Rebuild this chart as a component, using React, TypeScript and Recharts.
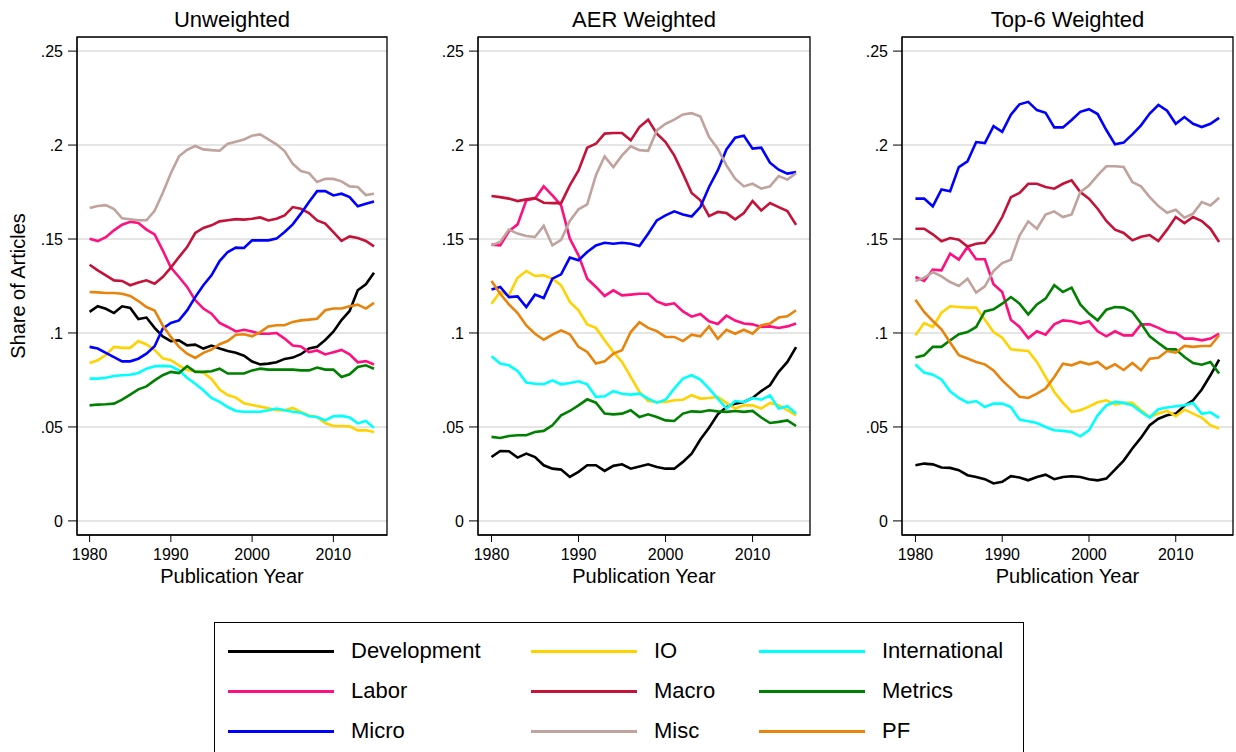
import { LineChart, Line, XAxis, YAxis, CartesianGrid, ReferenceArea } from 'recharts'

const years = Array.from({ length: 36 }, (_, i) => 1980 + i)
const xTicks = [1980, 1990, 2000, 2010]
const yTicks = [0, 0.05, 0.1, 0.15, 0.2, 0.25]
const xDomain = [1978.45, 2016.6]
const yDomain = [-0.0075, 0.2575]

const fields = ['Development', 'IO', 'International', 'Labor', 'Macro', 'Metrics', 'Micro', 'Misc', 'PF']
const colors = ['#000000', '#ffd200', '#00ffff', '#ff0f7f', '#c41238', '#008000', '#0000ff', '#c0a39c', '#e8830c']

// Unweighted
const unwDevelopment = [.1112, .1142, .1129, .1106, .1142, .1133, .1074, .1082, .1027, .0982, .0957, .0961, .0934, .0938, .0917, .0933, .0917, .0904, .0895, .0879, .0848, .0833, .0837, .0844, .0862, .0869, .0887, .0918, .0927, .0963, .1007, .1069, .1117, .1227, .1259, .1321]
const unwIO = [.084, .0855, .0883, .0926, .0921, .0921, .0957, .0939, .091, .0865, .0855, .0828, .0803, .0796, .079, .0755, .0699, .067, .0656, .0626, .0617, .0608, .06, .0589, .0589, .0601, .058, .0561, .0553, .0521, .0505, .0505, .0503, .0482, .0482, .0473]
const unwInternational = [.0757, .0757, .0762, .0771, .0775, .0778, .0787, .081, .0823, .0825, .0823, .0801, .0762, .073, .0695, .0654, .0633, .0606, .0585, .0581, .0581, .0581, .0589, .0598, .0589, .0581, .0576, .0557, .0553, .0535, .0557, .0559, .055, .0519, .0532, .0495]
const unwLabor = [.1502, .1489, .151, .1546, .1576, .1592, .1585, .155, .1525, .144, .1348, .1298, .1245, .1174, .113, .1103, .1053, .1032, .1008, .1017, .1008, .0996, .0996, .1, .097, .0933, .0928, .0898, .0907, .0886, .0898, .091, .0886, .0844, .085, .0832]
const unwMacro = [.1363, .1333, .1307, .128, .1277, .1254, .1268, .128, .1262, .1298, .1348, .1404, .1457, .1532, .1559, .1573, .1594, .16, .1606, .1603, .1608, .1615, .1599, .1608, .1626, .167, .1661, .1638, .1599, .1582, .1537, .149, .1514, .1505, .149, .1461]
const unwMetrics = [.0615, .0619, .0621, .0624, .0645, .0672, .07, .0716, .0748, .0775, .0793, .0787, .0823, .0793, .0793, .0796, .081, .0784, .0784, .0784, .0801, .081, .0805, .0805, .0805, .0805, .0801, .0801, .0816, .0805, .0805, .0766, .078, .0819, .0828, .081]
const unwMicro = [.0926, .0917, .0894, .0872, .0849, .0849, .0863, .089, .0929, .1023, .1053, .1067, .112, .1191, .1254, .1307, .1383, .1431, .1454, .1452, .1493, .1493, .1493, .1502, .1537, .1578, .1635, .1697, .1755, .1755, .1732, .1741, .1723, .1674, .1688, .17]
const unwMisc = [.1665, .1676, .168, .166, .161, .1605, .16, .16, .165, .1745, .185, .194, .1975, .1995, .1977, .1973, .197, .2007, .2018, .203, .205, .2057, .203, .2004, .1968, .19, .1862, .1851, .1803, .182, .182, .1807, .178, .1777, .1734, .1741]
const unwPF = [.1218, .1216, .1213, .1213, .1209, .1197, .117, .1138, .112, .104, .0979, .0926, .089, .0867, .0894, .0911, .094, .0957, .0991, .0993, .0982, .1005, .1035, .1041, .1041, .1059, .1067, .1071, .1076, .1121, .113, .113, .1142, .1151, .113, .116]

// AER weighted
const aerDevelopment = [.034, .0372, .0371, .0337, .0358, .034, .0296, .0278, .0273, .0234, .0261, .0296, .0296, .0266, .0293, .0301, .0278, .029, .0301, .0287, .0278, .0278, .0314, .0358, .0433, .0496, .0567, .0606, .0624, .0633, .0654, .0691, .0722, .0793, .0846, .0925]
const aerIO = [.1156, .1218, .12, .1294, .133, .1303, .1307, .1289, .1254, .1165, .1121, .1046, .1027, .0961, .0899, .0846, .0766, .0686, .0638, .0633, .0633, .0642, .0645, .0669, .0651, .0654, .066, .0628, .0598, .0615, .0615, .0598, .0628, .0615, .0589, .0562]
const aerInternational = [.0876, .0837, .0828, .0798, .0736, .073, .0727, .0748, .0727, .0734, .0743, .0727, .066, .0663, .069, .0677, .0672, .0677, .0651, .0629, .0645, .0704, .0757, .0775, .0752, .0704, .0651, .0598, .0638, .0633, .0654, .0645, .0668, .0598, .061, .0571]
const aerLabor = [.147, .1466, .1541, .1578, .1706, .1715, .178, .1732, .1679, .1502, .1413, .1289, .1245, .1197, .1227, .12, .1204, .1209, .1209, .1168, .115, .1158, .1115, .1087, .1101, .1062, .1048, .1092, .1066, .105, .1046, .1032, .1035, .1027, .1035, .105]
const aerMacro = [.1729, .1723, .1715, .1702, .1711, .1718, .1693, .1691, .1691, .1785, .1865, .1986, .2007, .2061, .2064, .2064, .2025, .2096, .2135, .206, .2016, .1945, .1848, .1745, .1706, .1622, .1644, .1638, .1605, .1638, .1702, .1652, .1691, .167, .1649, .1575]
const aerMetrics = [.0447, .0441, .0452, .0456, .0456, .0473, .0479, .0509, .0562, .0585, .0615, .0647, .0629, .0571, .0567, .0571, .0589, .0553, .0567, .0553, .0535, .0532, .0571, .0583, .058, .0589, .0583, .058, .0585, .058, .0585, .055, .0521, .0527, .0535, .0505]
const aerMicro = [.1232, .1245, .1191, .1195, .1138, .1204, .1186, .1289, .1312, .1401, .1387, .1431, .1466, .148, .1475, .148, .1475, .1463, .1528, .1599, .1626, .1647, .1631, .162, .167, .1777, .1865, .1977, .2039, .205, .1981, .1986, .1906, .1869, .1848, .1856]
const aerMisc = [.1466, .1484, .155, .1529, .1516, .1511, .157, .1466, .1496, .1596, .1658, .1684, .1839, .194, .1883, .1945, .1993, .1973, .1969, .2078, .2113, .2135, .2163, .217, .2152, .2043, .1981, .1892, .1821, .178, .1794, .1768, .178, .1835, .1816, .185]
const aerPF = [.1277, .1209, .1152, .1106, .104, .0996, .0964, .0991, .1014, .0993, .0926, .0899, .0837, .0849, .089, .0908, .1005, .1057, .1027, .101, .0979, .0979, .0957, .0991, .0982, .1035, .0969, .1017, .0996, .1017, .0996, .1041, .105, .1082, .1089, .1121]

// Top-6 weighted
const topDevelopment = [.0296, .0305, .0301, .0284, .0282, .027, .0243, .0234, .0222, .0199, .0208, .0238, .0231, .0216, .0234, .0246, .0222, .0234, .0238, .0234, .0222, .0216, .0225, .0273, .0321, .0385, .0443, .0509, .0544, .0562, .0571, .0613, .0642, .0699, .0775, .0858]
const topIO = [.0988, .1053, .1032, .1108, .1142, .1138, .1135, .1135, .1071, .1005, .0975, .0913, .0908, .0904, .0846, .0766, .0686, .0628, .058, .0589, .0608, .0631, .0642, .062, .0628, .0628, .0589, .0553, .0571, .0585, .0557, .0592, .0571, .055, .0509, .0491]
const topInternational = [.0832, .0789, .0778, .0753, .069, .0654, .0629, .0638, .0606, .0624, .0624, .0606, .0539, .053, .0521, .05, .0482, .0479, .0473, .045, .0482, .0562, .0615, .0633, .0628, .0615, .058, .055, .0594, .0603, .061, .0615, .0628, .057, .0578, .0548]
const topLabor = [.1298, .1277, .1337, .1333, .1422, .139, .1458, .1392, .1392, .1259, .1218, .1071, .1032, .0973, .1009, .0991, .1046, .1067, .1062, .105, .1062, .1009, .0982, .1009, .0987, .0987, .1046, .1046, .1027, .1005, .1, .097, .097, .0961, .097, .0996]
const topMacro = [.1555, .1555, .1525, .1488, .1505, .1496, .146, .1475, .148, .1537, .1617, .1723, .1745, .1794, .1794, .1777, .1768, .1794, .1812, .175, .1715, .1661, .1596, .155, .1532, .1493, .1512, .1521, .1489, .155, .1617, .1585, .1617, .1596, .1555, .1484]
const topMetrics = [.0869, .0881, .0926, .0926, .0961, .0993, .1005, .1032, .1115, .1126, .1156, .1191, .1156, .1099, .1152, .1183, .1254, .1218, .1241, .1152, .1103, .1067, .1124, .1138, .1135, .1112, .105, .0982, .0947, .0913, .0913, .0872, .084, .0831, .0846, .0784]
const topMicro = [.1715, .1715, .1674, .1764, .1754, .1883, .1913, .2016, .2011, .2101, .207, .2162, .2217, .223, .2186, .2172, .2094, .2094, .2133, .2177, .2191, .2165, .208, .2004, .2013, .2057, .2105, .2168, .2213, .2183, .2113, .2149, .2113, .2096, .2113, .2145]
const topMisc = [.1277, .1294, .1324, .1301, .1271, .125, .1289, .1215, .1248, .133, .1372, .139, .1519, .1594, .1555, .163, .1647, .1617, .1631, .175, .1785, .1839, .1887, .1887, .1883, .1803, .178, .1723, .1675, .164, .1656, .1613, .1635, .1697, .1679, .172]
const topPF = [.1177, .1112, .1064, .102, .0949, .0882, .0864, .0846, .0833, .0801, .0748, .0704, .066, .0654, .0677, .0704, .0766, .0837, .0828, .0846, .0833, .0846, .081, .0833, .0803, .084, .0802, .0863, .0868, .0904, .0895, .0931, .0926, .0931, .0931, .0988]

const font = '"Liberation Sans", Arial, Helvetica, sans-serif'

const panels = [
  {
    title: 'Unweighted', left: 0, width: 400, axisWidth: 77, marginRight: 13, yTitle: true,
    series: [unwDevelopment, unwIO, unwInternational, unwLabor, unwMacro, unwMetrics, unwMicro, unwMisc, unwPF],
  },
  {
    title: 'AER Weighted', left: 418, width: 402, axisWidth: 60, marginRight: 10, yTitle: false,
    series: [aerDevelopment, aerIO, aerInternational, aerLabor, aerMacro, aerMetrics, aerMicro, aerMisc, aerPF],
  },
  {
    title: 'Top-6 Weighted', left: 842, width: 394, axisWidth: 60, marginRight: 3, yTitle: false,
    series: [topDevelopment, topIO, topInternational, topLabor, topMacro, topMetrics, topMicro, topMisc, topPF],
  },
]

const tickStyle = { fontSize: 16, fill: '#000', fontFamily: font }

function fmtShare(v: number) {
  return v === 0 ? '0' : String(v).replace(/^0/, '')
}

function YTitle({ viewBox }: any) {
  const cx = viewBox.x + 18
  const cy = viewBox.y + viewBox.height / 2
  return (
    <text x={cx} y={cy} transform={`rotate(-90 ${cx} ${cy})`} textAnchor="middle"
      dominantBaseline="central" fontSize={20} fill="#000" fontFamily={font}>
      Share of Articles
    </text>
  )
}

function Panel({ p }: { p: typeof panels[number] }) {
  const data = years.map((year, i) => {
    const row: Record<string, number> = { year }
    fields.forEach((f, k) => { row[f] = p.series[k][i] })
    return row
  })
  return (
    <div style={{ position: 'absolute', left: p.left, top: 0 }}>
      <LineChart width={p.width} height={600} data={data}
        margin={{ top: 37, right: p.marginRight, bottom: 5, left: 0 }}>
        <CartesianGrid vertical={false} stroke="#dcdcdc" strokeWidth={1.5} />
        <XAxis dataKey="year" type="number" domain={xDomain} ticks={xTicks} height={60}
          tick={tickStyle} tickSize={7} tickMargin={7} axisLine={{ stroke: '#000' }} tickLine={{ stroke: '#000' }}
          label={{ value: 'Publication Year', position: 'insideBottom', offset: 12, fontSize: 20, fill: '#000' }} />
        <YAxis type="number" domain={yDomain} ticks={yTicks} width={p.axisWidth} tickFormatter={fmtShare}
          tick={tickStyle} tickSize={9} tickMargin={5} axisLine={{ stroke: '#000' }} tickLine={{ stroke: '#000' }}
          label={p.yTitle ? <YTitle /> : undefined} />
        <ReferenceArea x1={xDomain[0]} x2={xDomain[1]} y1={yDomain[0]} y2={yDomain[1]}
          fill="none" stroke="#000" strokeWidth={1.3} fillOpacity={0}
          label={{ value: p.title, position: 'top', offset: 10, fontSize: 22, fill: '#000' }} />
        {fields.map((f, k) => (
          <Line key={f} dataKey={f} type="linear" stroke={colors[k]} strokeWidth={2.6}
            dot={false} activeDot={false} isAnimationActive={false} />
        ))}
      </LineChart>
    </div>
  )
}

const legendLineX = [227, 530, 758]

function LegendBox() {
  return (
    <div style={{
      position: 'absolute', left: 214, top: 622, width: 810, height: 150,
      border: '1.3px solid #000', boxSizing: 'border-box',
    }}>
      {fields.map((f, k) => {
        const col = k % 3
        const row = Math.floor(k / 3)
        const cy = 28 + row * 40
        const lx = legendLineX[col] - 214
        return (
          <div key={f}>
            <div style={{ position: 'absolute', left: lx, top: cy - 1.5, width: 106, height: 3, background: colors[k] }} />
            <div style={{ position: 'absolute', left: lx + 123, top: cy - 13, lineHeight: '26px', fontSize: 22, color: '#000' }}>{f}</div>
          </div>
        )
      })}
    </div>
  )
}

export default function App() {
  return (
    <div style={{
      position: 'absolute', left: 0, top: 0, width: 1236, height: 752, overflow: 'hidden',
      background: '#fff', fontFamily: font,
    }}>
      {panels.map(p => <Panel key={p.title} p={p} />)}
      <LegendBox />
    </div>
  )
}
